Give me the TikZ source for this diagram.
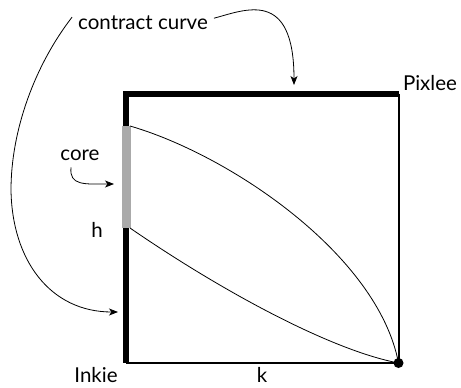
\documentclass[tikz,border=0pt]{standalone}
\usepackage{fontspec}
\setmainfont{Lato}
\usetikzlibrary{arrows.meta}
\begin{document}
\begin{tikzpicture}[x=1pt,y=-1pt,
  lbl/.style={font=\fontsize{20.5}{24}\selectfont, inner sep=0pt, anchor=base},
  arr/.style={line width=0.8pt,-{Stealth[length=9pt,width=7pt,inset=2.5pt]}},
  thin/.style={line width=0.8pt}]
\useasboundingbox (0,0) rectangle (461,388);
% corners
\coordinate (TL) at (126,93.5);
\coordinate (TR) at (398.5,93.5);
\coordinate (BL) at (126,363);
\coordinate (BR) at (398.5,363);
\coordinate (C1) at (126,126);
\coordinate (C2) at (126,228);
% box
\draw[line width=2pt] (BL) -- (BR);
\draw[line width=2pt] (TR) -- (BR);
\draw[line width=6pt] (C1) -- (TL) -- (TR);
\draw[line width=6pt] (C2) -- (BL);
\draw[line width=9pt, draw={rgb,255:red,170;green,170;blue,170}] (C1) -- (C2);
% contract curves
\draw[thin] (130,126) .. controls (230,155) and (378,255) .. (BR);
\draw[thin] (130,228) .. controls (220,290) and (330,350) .. (BR);
\fill (BR) circle (5);
% labels
\node[lbl] (cc) at (143,30) {contract curve};
\node[lbl] (px) at (430,90) {Pixlee};
\node[lbl] (core) at (80,160) {core};
\node[lbl] (h) at (97,237) {h};
\node[lbl] (ink) at (96,382) {Inkie};
\node[lbl] (k) at (262,382) {k};
% arrows
\coordinate (a1) at (294,85);
\coordinate (a2) at (118,312);
\coordinate (a3) at (114,184);
\coordinate (m1) at (11,190);
\draw[arr] (cc.east) ++(6,-5) .. controls (245,10) and (294,-12) .. (a1);
\draw[arr] (cc.west) ++(-6,-6) .. controls (35,65) and (11,130) .. (m1)
  .. controls (12,260) and (50,312) .. (a2);
\draw[arr] (core.south) ++(-9,7) .. controls (69,186) and (85,184) .. (a3);
\end{tikzpicture}
\end{document}
